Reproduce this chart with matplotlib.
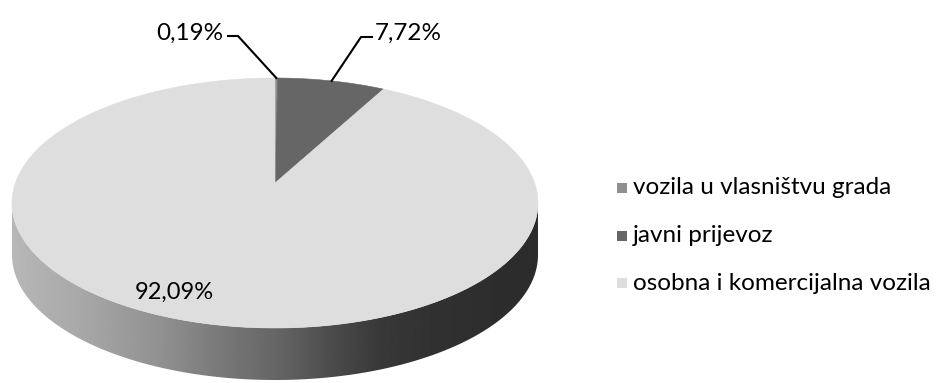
import numpy as np
import matplotlib.pyplot as plt
from matplotlib.patches import Polygon, Rectangle

plt.rcParams['font.family'] = ['Lato', 'DejaVu Sans']

labels = ["vozila u vlasništvu grada", "javni prijevoz", "osobna i komercijalna vozila"]
shares = [0.19, 7.72, 92.09]
value_text = ["0,19%", "7,72%", "92,09%"]
colors = ["#8f8f8f", "#666666", "#dedede"]

fig = plt.figure(figsize=(9.38, 3.83), dpi=100)
ax = fig.add_axes([0, 0, 1, 1])
ax.set_xlim(0, 938)
ax.set_ylim(383, 0)
ax.axis("off")

# disc seen in perspective: centre projects to x0, y0
x0, y0 = 275, 183
A, B, k = 121.8, 259.6, 0.16
depth = 52


def rim(phi):
    # phi in degrees, clockwise from 12 o'clock
    p = np.radians(phi)
    c, s = np.cos(p), np.sin(p)
    d = 1 + k * c
    return x0 + B * s / d, y0 - A * c / d


# side wall of the disc with a horizontal shading
edge = np.degrees(np.arccos(-k))
t = np.linspace(edge, 360 - edge, 200)
tx, ty = rim(t)
side = np.vstack([np.column_stack([tx, ty]),
                  np.column_stack([tx[::-1], ty[::-1] + depth])])
side_patch = Polygon(side, closed=True, facecolor="none", edgecolor="none")
ax.add_patch(side_patch)
xs = np.array([12, 80, 160, 230, 275, 330, 380, 440, 538])
gs = np.array([0.72, 0.66, 0.57, 0.46, 0.40, 0.30, 0.22, 0.19, 0.17])
grad = np.interp(np.linspace(12, 538, 400), xs, gs)
img = ax.imshow(np.tile(grad, (10, 1)), cmap="gray", vmin=0, vmax=1,
                extent=[10, 540, 383, 190], aspect="auto",
                interpolation="bilinear", zorder=1)
img.set_clip_path(side_patch)

# top face slices
start = 0.0
for share, col in zip(shares, colors):
    span = share / 100 * 360
    a = np.linspace(start, start + span, max(int(span * 2), 2))
    px, py = rim(a)
    pts = np.vstack([[(x0, y0)], np.column_stack([px, py])])
    ax.add_patch(Polygon(pts, closed=True, facecolor=col, edgecolor=col,
                         linewidth=0.4, zorder=2))
    start += span

# value labels
fs = 17.5
mids = np.cumsum(shares) - np.array(shares) / 2
mx, my = rim(mids[0] / 100 * 360)
ax.plot([mx, 238, 228], [my, 36, 36], color="black", lw=1.5, zorder=3)
ax.text(223, 33, value_text[0], fontsize=fs, ha="right", va="center")
mx, my = rim(mids[1] / 100 * 360)
ax.plot([mx, 361, 372], [my, 37, 37], color="black", lw=1.5, zorder=3)
ax.text(375, 33, value_text[1], fontsize=fs, ha="left", va="center")
ax.text(174, 292, value_text[2], fontsize=17, ha="center", va="center")

# legend
for i, (lab, col) in enumerate(zip(labels, colors)):
    y = 188 + i * 47.5
    ax.add_patch(Rectangle((617, y - 5), 10, 10, facecolor=col, edgecolor="none"))
    ax.text(633, y, lab, fontsize=fs, ha="left", va="center")

fig.savefig("out.png", dpi=100)
